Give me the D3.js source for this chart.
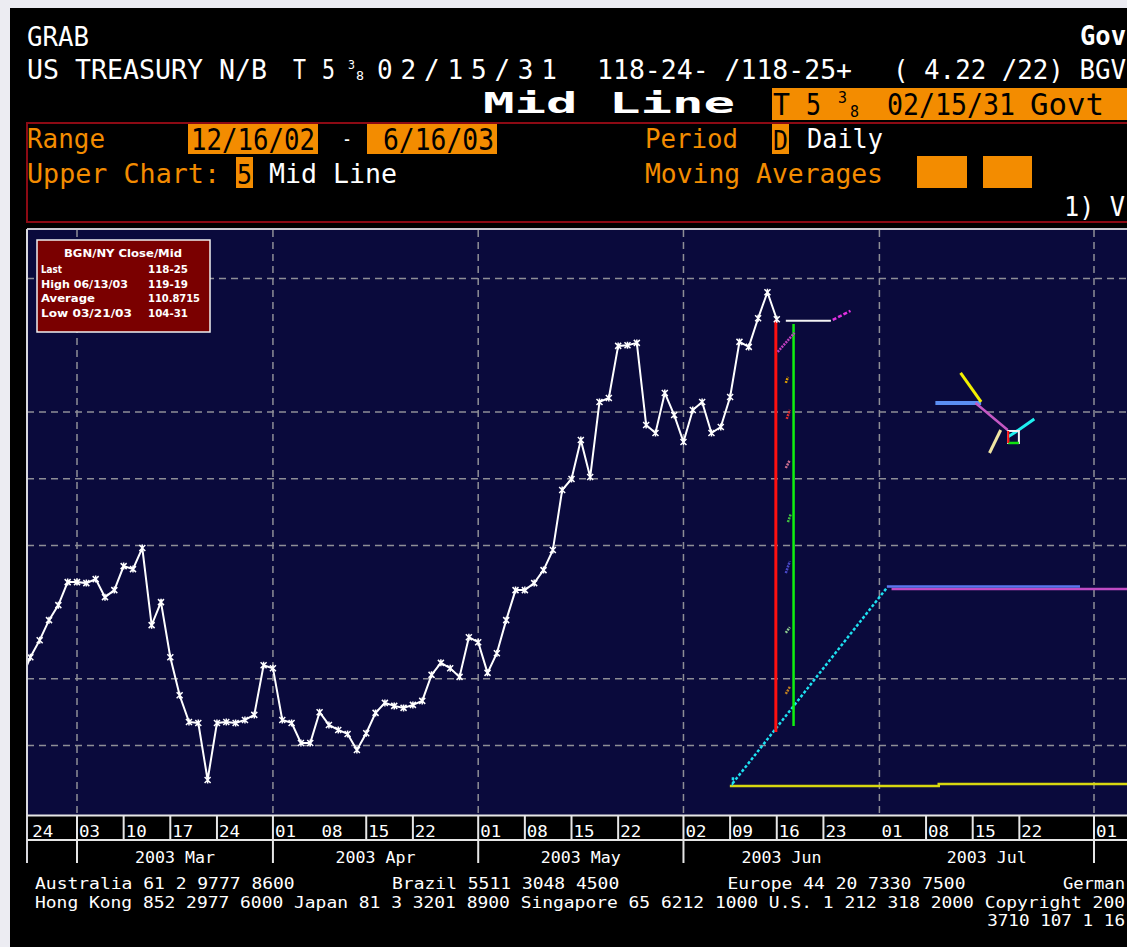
<!DOCTYPE html>
<html>
<head>
<meta charset="utf-8">
<script src="https://cdn.jsdelivr.net/npm/d3@7"></script>
<style>
  html, body { margin: 0; padding: 0; background: #ececf2; overflow: hidden; }
  svg { display: block; }
  text { white-space: pre; }
</style>
</head>
<body>
<svg id="chart" width="1127" height="947"></svg>
<script>
// ---- data ----
// mid price, one value per weekday starting Fri 21 Feb 2003, ending Mon 16 Jun 2003
const seriesStart = '2003-02-21';
const midPrices = [
  107.97, 108.65, 109.16, 109.76, 110.21, 110.90,
  110.90, 110.87, 110.99, 110.45, 110.66, 111.38, 111.29, 111.92, 109.61, 110.30,
  108.65, 107.51, 106.71, 106.68, 104.97, 106.68, 106.71, 106.68, 106.77, 106.92,
  108.41, 108.32, 106.77, 106.68, 106.08, 106.08, 107.00, 106.62, 106.47, 106.35,
  105.87, 106.37, 106.98, 107.28, 107.19, 107.13, 107.22, 107.34, 108.12, 108.48,
  108.32, 108.06, 109.25, 109.10, 108.18, 108.77, 109.76, 110.66, 110.66, 110.87,
  111.26, 111.86, 113.66, 113.99, 115.16, 114.05, 116.30, 116.42, 117.98, 118.00,
  118.07, 115.61, 115.37, 116.57, 115.91, 115.10, 116.06, 116.30, 115.37, 115.55,
  116.45, 118.10, 117.95, 118.81, 119.59, 118.78
];

const tickDays = ['2003-02-24', '2003-03-03', '2003-03-10', '2003-03-17', '2003-03-24',
  '2003-04-01', '2003-04-08', '2003-04-15', '2003-04-22', '2003-05-01', '2003-05-08',
  '2003-05-15', '2003-05-22', '2003-06-02', '2003-06-09', '2003-06-16', '2003-06-23',
  '2003-07-01', '2003-07-08', '2003-07-15', '2003-07-22', '2003-08-01'];
// the terminal leaves a few tick separators out
const tickSepDays = ['2003-03-03', '2003-03-10', '2003-03-17', '2003-03-24', '2003-04-01',
  '2003-04-15', '2003-04-22', '2003-05-01', '2003-05-08', '2003-05-15', '2003-05-22',
  '2003-06-02', '2003-06-09', '2003-06-16', '2003-06-23', '2003-07-08', '2003-07-15',
  '2003-07-22', '2003-08-01'];
const monthStarts = ['2003-03-03', '2003-04-01', '2003-05-01', '2003-06-02', '2003-07-01', '2003-08-01'];
const monthLabels = ['2003 Mar', '2003 Apr', '2003 May', '2003 Jun', '2003 Jul'];
const monthSepDays = ['2003-03-03', '2003-04-01', '2003-05-01', '2003-06-02', '2003-08-01'];
const gridValues = [120, 116, 114, 112, 108, 106];

const legendTitle = 'BGN/NY Close/Mid';
const legendLabels = ['Last', 'High 06/13/03', 'Average', 'Low 03/21/03'];
const legendValues = ['118-25', '119-19', '110.8715', '104-31'];

// study lines left on the chart: [weekday index from 3 Mar 03, price]
const redLine = [[74.9, 118.76], [74.9, 106.41]];
const greenLine = [[76.8, 118.64], [76.8, 106.59]];
const lastLine = [[75.97, 118.73], [80.8, 118.73]];
const magentaTail = [[81.0, 118.76], [82.9, 119.03]];
const cyanRamp = [[70.3, 105.05], [70.3, 104.88], [86.8, 110.73]];
const blueFlat = [[86.8, 110.77], [107.5, 110.77]];
const magentaFlat = [[87.3, 110.69], [113, 110.69]];
const yellowBase = [[69.97, 104.79], [92.36, 104.79], [92.36, 104.85], [113, 104.85]];
const clusterLines = [
  { pts: [[92.0, 116.27], [96.9, 116.27]], color: '#5b8ef2', w: 4 },
  { pts: [[94.7, 117.17], [96.9, 116.30]], color: '#f2f000', w: 3 },
  { pts: [[96.3, 116.27], [99.75, 115.46]], color: '#c458c4', w: 2.5 },
  { pts: [[97.8, 114.77], [99.0, 115.46]], color: '#f0e6a4', w: 3 },
  { pts: [[99.75, 115.25], [100.6, 115.40], [102.6, 115.79]], color: '#1ff0f0', w: 3 }
];
const clusterBox = [[99.8, 115.43], [100.95, 115.07]];
const smallDashes = [
  [75.1, 117.80, 76.9, 118.37, '#c040c0'],
  [75.97, 116.87, 76.2, 117.05, '#e0a000'],
  [76.07, 115.79, 76.4, 116.06, '#e03030'],
  [75.97, 114.32, 76.4, 114.56, '#d07090'],
  [76.2, 112.70, 76.5, 112.94, '#40c040'],
  [75.97, 111.17, 76.4, 111.53, '#4848c8'],
  [75.97, 109.38, 76.4, 109.55, '#90d090'],
  [75.97, 107.55, 76.4, 107.76, '#c08020']
];

// ---- setup ----
const W = 1127, H = 947;
const ORANGE = '#f38c00';
const MONO = "'DejaVu Sans Mono', monospace";
const parse = d3.timeParse('%Y-%m-%d');

const weekdays = d3.timeDay.range(new Date(2003, 1, 17), new Date(2003, 8, 1))
  .filter(d => d.getDay() !== 0 && d.getDay() !== 6);
const origin = weekdays.findIndex(d => +d === +parse('2003-03-03'));
const dayIndex = d => weekdays.findIndex(w => +w === +d) - origin;

const startPos = weekdays.findIndex(d => +d === +parse(seriesStart));
const series = midPrices.map((v, i) => ({ date: weekdays[startPos + i], value: v }));

const plot = { left: 27, top: 230, right: 1127, bottom: 815 };
const x = d3.scaleLinear().domain([0, 109]).range([77, 1094]);
const y = d3.scaleLinear().domain([106, 120]).range([745.6, 278.5]);
const xd = s => x(dayIndex(parse(s)));

const svg = d3.select('#chart');

function label(g, px, py, str, o = {}) {
  const t = g.append('text')
    .attr('x', px).attr('y', py)
    .attr('fill', o.fill || '#fff')
    .style('font-family', o.family || MONO)
    .style('font-size', (o.size || 26) + 'px')
    .style('font-weight', o.weight || 'normal')
    .text(str);
  if (o.w) t.attr('textLength', o.w).attr('lengthAdjust', o.adjust || 'spacingAndGlyphs');
  if (o.anchor) t.attr('text-anchor', o.anchor);
  return t;
}

// black terminal screen
svg.append('rect').attr('x', 10).attr('y', 8).attr('width', W).attr('height', H).attr('fill', '#000');

// ---- header ----
const head = svg.append('g');
label(head, 27, 46, 'GRAB', { w: 62 });
label(head, 1080, 45, 'Gov', { weight: 'bold', w: 46 });

label(head, 27, 79, 'US TREASURY N/B', { w: 240 });
label(head, 293, 79, 'T', { w: 13 });
label(head, 322, 79, '5', { w: 13 });
label(head, 348, 69, '3', { size: 13, w: 7 });
label(head, 356, 80, '8', { size: 13, w: 8 });
label(head, 377, 79, '02/15/31', { w: 180, adjust: 'spacing' });
label(head, 597, 79, '118-24- /118-25+', { w: 255 });
label(head, 893, 79, '( 4.22 /22) BGV', { w: 233 });

label(head, 483, 113, 'Mid Line', { size: 29, weight: 'bold', w: 252 });
head.append('rect').attr('x', 772).attr('y', 88).attr('width', 400).attr('height', 32).attr('fill', ORANGE);
label(head, 773, 115, 'T', { size: 31, fill: '#000', w: 17 });
label(head, 806, 115, '5', { size: 31, fill: '#000', w: 15 });
label(head, 838, 103, '3', { size: 15, fill: '#000', w: 9 });
label(head, 850, 117, '8', { size: 15, fill: '#000', w: 9 });
label(head, 887, 115, '02/15/31', { size: 31, fill: '#000', w: 128 });
label(head, 1030, 115, 'Govt', { size: 31, fill: '#000', w: 74 });

// settings box
head.append('rect').attr('x', 27).attr('y', 123).attr('width', 1130).attr('height', 99)
  .attr('fill', 'none').attr('stroke', '#8c0a14').attr('stroke-width', 2);
label(head, 27, 148, 'Range', { fill: ORANGE, w: 78 });
head.append('rect').attr('x', 188).attr('y', 124).attr('width', 130).attr('height', 30).attr('fill', ORANGE);
label(head, 191, 150, '12/16/02', { size: 31, fill: '#000', w: 124 });
label(head, 342, 146, '-', { size: 22, w: 10 });
head.append('rect').attr('x', 367).attr('y', 124).attr('width', 130).attr('height', 30).attr('fill', ORANGE);
label(head, 383, 150, '6/16/03', { size: 31, fill: '#000', w: 111 });
label(head, 27, 183, 'Upper Chart:', { fill: ORANGE, w: 193 });
head.append('rect').attr('x', 236).attr('y', 157).attr('width', 17).attr('height', 31).attr('fill', ORANGE);
label(head, 237, 184, '5', { fill: '#000', w: 15 });
label(head, 269, 183, 'Mid Line', { w: 128 });

label(head, 645, 148, 'Period', { fill: ORANGE, w: 93 });
head.append('rect').attr('x', 772).attr('y', 124).attr('width', 17).attr('height', 30).attr('fill', ORANGE);
label(head, 773, 150, 'D', { fill: '#000', w: 15 });
label(head, 807, 148, 'Daily', { w: 76 });
label(head, 645, 183, 'Moving Averages', { fill: ORANGE, w: 238 });
head.append('rect').attr('x', 917).attr('y', 156).attr('width', 50).attr('height', 32).attr('fill', ORANGE);
head.append('rect').attr('x', 983).attr('y', 156).attr('width', 49).attr('height', 32).attr('fill', ORANGE);
label(head, 1064, 216, '1) V', { w: 61 });

// ---- plot area ----
svg.append('defs').append('clipPath').attr('id', 'plotClip')
  .append('rect')
  .attr('x', plot.left).attr('y', plot.top)
  .attr('width', plot.right - plot.left).attr('height', plot.bottom - plot.top);

svg.append('rect')
  .attr('x', plot.left).attr('y', plot.top)
  .attr('width', plot.right - plot.left).attr('height', plot.bottom - plot.top)
  .attr('fill', '#0a0a3c');

const pg = svg.append('g').attr('clip-path', 'url(#plotClip)');

// dashed grid
pg.selectAll('.vgrid').data(monthStarts).enter().append('line')
  .attr('class', 'vgrid')
  .attr('x1', d => xd(d)).attr('x2', d => xd(d))
  .attr('y1', plot.top).attr('y2', plot.bottom)
  .attr('stroke', '#8e8e96').attr('stroke-width', 1.5).attr('stroke-dasharray', '7,5');
pg.selectAll('.hgrid').data(gridValues).enter().append('line')
  .attr('class', 'hgrid')
  .attr('x1', plot.left).attr('x2', plot.right)
  .attr('y1', d => y(d)).attr('y2', d => y(d))
  .attr('stroke', '#8e8e96').attr('stroke-width', 1.5).attr('stroke-dasharray', '7,5');

// study leftovers
const seg = d3.line().x(d => x(d[0])).y(d => y(d[1]));
function study(pts, color, w, dash) {
  const p = pg.append('path').attr('d', seg(pts))
    .attr('fill', 'none').attr('stroke', color).attr('stroke-width', w);
  if (dash) p.attr('stroke-dasharray', dash);
  return p;
}
study(yellowBase, '#d8d810', 2.5);
study(cyanRamp, '#1ee0f0', 2.5, '3,2');
study(magentaFlat, '#c04cc4', 2.5);
study(blueFlat, '#5b78f0', 2.5);
study(redLine, '#ff1010', 3);
study(greenLine, '#10f010', 2.5);
study(lastLine, '#f4f4f4', 2);
study(magentaTail, '#e030e0', 2.5, '4,2');
smallDashes.forEach(d => study([[d[0], d[1]], [d[2], d[3]]], d[4], 2.5, '2,1'));
clusterLines.forEach(c => study(c.pts, c.color, c.w));
pg.append('rect')
  .attr('x', x(clusterBox[0][0])).attr('y', y(clusterBox[0][1]))
  .attr('width', x(clusterBox[1][0]) - x(clusterBox[0][0]))
  .attr('height', y(clusterBox[1][1]) - y(clusterBox[0][1]))
  .attr('fill', 'none').attr('stroke', '#f4f4f4').attr('stroke-width', 2);
study([[clusterBox[0][0], clusterBox[1][1]], [clusterBox[1][0], clusterBox[1][1]]], '#10e010', 2.5);
study([[clusterBox[0][0], clusterBox[0][1]], [clusterBox[0][0], clusterBox[1][1]]], '#ff1010', 2);

// mid price line
const priceLine = d3.line()
  .x(d => x(dayIndex(d.date)))
  .y(d => y(d.value));
pg.append('path').datum(series)
  .attr('d', priceLine)
  .attr('fill', 'none').attr('stroke', '#fff').attr('stroke-width', 2);
pg.selectAll('.pt').data(series).enter().append('path')
  .attr('class', 'pt')
  .attr('transform', d => `translate(${x(dayIndex(d.date))},${y(d.value)})`)
  .attr('d', 'M-3,-3L3,3M-3,3L3,-3M0,-3.5V3.5')
  .attr('stroke', '#fff').attr('stroke-width', 1.5);

// plot frame
svg.append('line').attr('x1', plot.left).attr('x2', plot.right).attr('y1', 229).attr('y2', 229)
  .attr('stroke', '#c8c8d0').attr('stroke-width', 2);
svg.append('line').attr('x1', plot.left).attr('x2', plot.left).attr('y1', 229).attr('y2', 863)
  .attr('stroke', '#d8d8de').attr('stroke-width', 2);

// legend box
const lg = svg.append('g');
lg.append('rect').attr('x', 37).attr('y', 240).attr('width', 173).attr('height', 92)
  .attr('fill', '#7a0000').attr('stroke', '#f0f0f0').attr('stroke-width', 1.5);
const LEG = "'DejaVu Sans', sans-serif";
label(lg, 123, 257, legendTitle, { family: LEG, size: 11, weight: 'bold', w: 118, anchor: 'middle' });
const legW = [21, 87, 54, 91];
const legValW = [40, 40, 52, 40];
legendLabels.forEach((t, i) => {
  const by = 273 + i * 14.7;
  label(lg, 41, by, t, { family: LEG, size: 11, weight: 'bold', w: legW[i] });
  label(lg, 148, by, legendValues[i], { family: LEG, size: 11, weight: 'bold', w: legValW[i] });
});

// ---- time axis ----
const ax = svg.append('g');
const axisStroke = '#e6e6e6';
ax.append('line').attr('x1', plot.left).attr('x2', W).attr('y1', 815.5).attr('y2', 815.5)
  .attr('stroke', axisStroke).attr('stroke-width', 2);
ax.append('line').attr('x1', plot.left).attr('x2', W).attr('y1', 840).attr('y2', 840)
  .attr('stroke', axisStroke).attr('stroke-width', 2);
ax.selectAll('.tsep').data(tickSepDays).enter().append('line')
  .attr('class', 'tsep')
  .attr('x1', d => xd(d)).attr('x2', d => xd(d))
  .attr('y1', 815).attr('y2', 840)
  .attr('stroke', axisStroke).attr('stroke-width', 2);
ax.selectAll('.msep').data(monthSepDays).enter().append('line')
  .attr('class', 'msep')
  .attr('x1', d => xd(d)).attr('x2', d => xd(d))
  .attr('y1', 840).attr('y2', 863)
  .attr('stroke', axisStroke).attr('stroke-width', 2);

const dayFmt = d3.timeFormat('%d');
tickDays.forEach(d => {
  label(ax, xd(d) + 2, 837, dayFmt(parse(d)), { size: 15, w: 21 });
});
monthLabels.forEach((m, i) => {
  const cx = (xd(monthStarts[i]) + xd(monthStarts[i + 1])) / 2;
  label(ax, cx, 863, m, { size: 15, w: 80, anchor: 'middle' });
});

// ---- footer (only the part that fits on the screen) ----
const ft = svg.append('g');
const cell = 10.82, fx = 35;
const footerRows = [
  [[0, 'Australia 61 2 9777 8600'], [33, 'Brazil 5511 3048 4500'], [64, 'Europe 44 20 7330 7500'], [95, 'German']],
  [[0, 'Hong Kong 852 2977 6000 Japan 81 3 3201 8900 Singapore 65 6212 1000 U.S. 1 212 318 2000 Copyright 200']],
  [[88, '3710 107 1 16']]
];
footerRows.forEach((row, r) => {
  row.forEach(([col, t]) => {
    const x0 = fx + col * cell;
    const w = Math.min(t.length * cell, W - 2 - x0);
    label(ft, x0, 889 + r * 18.5, t, { size: 15, w });
  });
});
</script>
</body>
</html>
